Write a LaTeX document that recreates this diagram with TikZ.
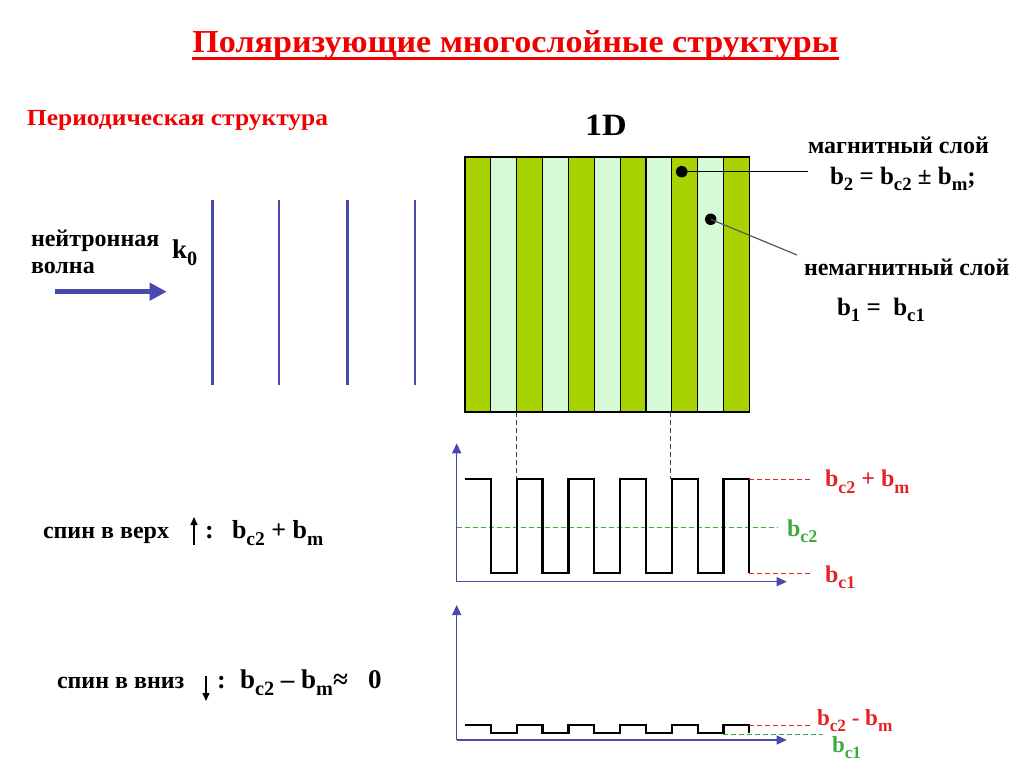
\documentclass[tikz,border=0pt]{standalone}
\usepackage{fontspec}
\setmainfont{Liberation Serif}
\usetikzlibrary{arrows.meta}
\definecolor{ttlred}{RGB}{240,0,0}
\definecolor{lblred}{RGB}{225,35,35}
\definecolor{lblgreen}{RGB}{60,170,60}
\definecolor{wblue}{RGB}{72,72,175}
\definecolor{darkstripe}{RGB}{168,210,0}
\definecolor{lightstripe}{RGB}{214,250,214}
\newcommand\fsz[1]{\fontsize{#1}{#1}\selectfont}
\newcommand\lsub[1]{\raisebox{-0.27em}{\scalebox{0.75}{#1}}}
\begin{document}
\begin{tikzpicture}[x=1pt,y=-1pt,
  every node/.style={inner sep=0pt, outer sep=0pt},
  txt/.style={anchor=base west, font=\bfseries\fsz{#1}},
  txt/.default=24,
  stripe/.style={draw=black, line width=1.2pt},
  wave/.style={draw=black, line width=2.2pt, line join=miter},
  wavefront/.style={draw=wblue, line width=2.4pt},
  axis/.style={draw=wblue, line width=1.5pt, -{Triangle[length=10pt,width=9pt]}},
  reddash/.style={draw=lblred, line width=1pt, dash pattern=on 5pt off 3pt},
  greendash/.style={draw=lblgreen, line width=1pt, dash pattern=on 5pt off 3pt},
  guide/.style={draw=black!75, line width=1pt, dash pattern=on 5pt off 3pt},
  dot/.style={circle, fill=black, minimum size=11.5pt},
  leader/.style={line width=1.2pt},
  spinarrow/.style={line width=1.3pt, -{Triangle[length=8pt,width=7pt]}}
]
\useasboundingbox (0,0) rectangle (1024,768);

% title
\node[anchor=base, text=ttlred, font=\bfseries\fsz{32}] (title) at (515.5,52.3) {\scalebox{1.065}[1]{Поляризующие многослойные структуры}};
\draw[ttlred, line width=2pt] ([yshift=-6.2pt]title.base west) -- ([yshift=-6.2pt]title.base east);

\node[txt=23, text=ttlred] (periodic) at (27,125) {\scalebox{1.107}[1]{Периодическая структура}};
\node[anchor=base, font=\bfseries\fsz{31}] (oneD) at (606,135) {\scalebox{1.1}[1]{1D}};

% layer stack
\foreach \i in {0,...,10}{
  \pgfmathsetmacro\xa{465+\i*25.85}
  \pgfmathsetmacro\xb{465+(\i+1)*25.85}
  \ifodd\i
    \path[stripe, fill=lightstripe] (\xa,157) rectangle (\xb,412);
  \else
    \path[stripe, fill=darkstripe] (\xa,157) rectangle (\xb,412);
  \fi
}

% dots and leaders
\node[dot] (mdot) at (681.7,171.7) {};
\node[dot] (ndot) at (710.7,219.3) {};
\coordinate (mend) at (808,171.7);
\coordinate (nend) at (797,255);
\draw[leader] (mdot.center) -- (mend);
\draw[leader, draw=black!65] (ndot.center) -- (nend);

\node[txt] (mag) at (808,153) {магнитный слой};
\node[txt=25] (b2) at (830,184) {b\lsub{2} = b\lsub{c2} ± b\lsub{m};};
\node[txt] (nonmag) at (804,275) {немагнитный слой};
\node[txt=25] (b1) at (837,315) {b\lsub{1} =\ \ b\lsub{c1}};

% neutron wave
\node[txt] (neut) at (31,246.7) {нейтронная};
\node[txt] (volna) at (31,273) {волна};
\node[txt=27] (k0) at (172,258) {k\lsub{0}};
\coordinate (arrS) at (55,291.7);
\coordinate (arrE) at (166.7,291.7);
\draw[wblue, line width=4.5pt, -{Triangle[length=17pt,width=17pt]}] (arrS) -- (arrE);
\foreach \x in {212.3,279,347.3,415}{
  \draw[wavefront] (\x,200) -- (\x,385);
}

% guides from stack to plot
\draw[guide] (516.7,412) -- (516.7,479);
\draw[guide] (670.5,412) -- (670.5,479);

% plot 1
\coordinate (o1) at (456.7,581.7);
\draw[axis] (o1) -- (456.7,443.3);
\draw[axis] (o1) -- (786.7,581.7);
\draw[greendash] (456.7,527.3) -- (778,527.3);
\def\hi{479}\def\lo{573.3}
\draw[wave] (465,\hi)
  \foreach \k in {1,3,5,7,9}{
    -- ({465+\k*25.85},\hi) -- ({465+\k*25.85},\lo)
    -- ({465+(\k+1)*25.85},\lo) -- ({465+(\k+1)*25.85},\hi)
  }
  -- ({465+11*25.85},\hi) -- ({465+11*25.85},\lo);
\draw[reddash] ({465+11*25.85},\hi) -- (810,\hi);
\draw[reddash] ({465+11*25.85},\lo) -- (810,\lo);
\node[txt, text=lblred] (l1a) at (825,486.7) {b\lsub{c2} + b\lsub{m}};
\node[txt, text=lblgreen] (l1b) at (787,536) {b\lsub{c2}};
\node[txt, text=lblred] (l1c) at (825,582) {b\lsub{c1}};

% plot 2
\coordinate (o2) at (456.7,740);
\draw[axis] (o2) -- (456.7,605);
\draw[axis] (o2) -- (786.7,740);
\def\hii{725}\def\loo{732.7}
\draw[greendash] (723,734.3) -- (823,734.3);
\draw[wave] (465,\hii)
  \foreach \k in {1,3,5,7,9}{
    -- ({465+\k*25.85},\hii) -- ({465+\k*25.85},\loo)
    -- ({465+(\k+1)*25.85},\loo) -- ({465+(\k+1)*25.85},\hii)
  }
  -- ({465+11*25.85},\hii) -- ({465+11*25.85},\loo);
\draw[reddash] ({465+11*25.85},\hii) -- (810,\hii);
\node[txt=23, text=lblred] (l2a) at (817,725) {b\lsub{c2} - b\lsub{m}};
\node[txt=23, text=lblgreen] (l2b) at (832,752) {b\lsub{c1}};

% spin texts
\node[txt] (sup) at (43,538.3) {спин в верх};
\draw[spinarrow] (194,545) -- (194,517);
\node[txt=26] (supc) at (205,538.3) {:};
\node[txt=26] (supf) at (232,538.3) {b\lsub{c2} + b\lsub{m}};
\node[txt] (sdown) at (57,688) {спин в вниз};
\draw[spinarrow] (206,676) -- (206,701);
\node[txt=26] (sdownc) at (217,688) {:};
\node[txt=27] (sdownf) at (240,688) {b\lsub{c2} – b\lsub{m}≈\hspace{0.75em}0};
\end{tikzpicture}
\end{document}
